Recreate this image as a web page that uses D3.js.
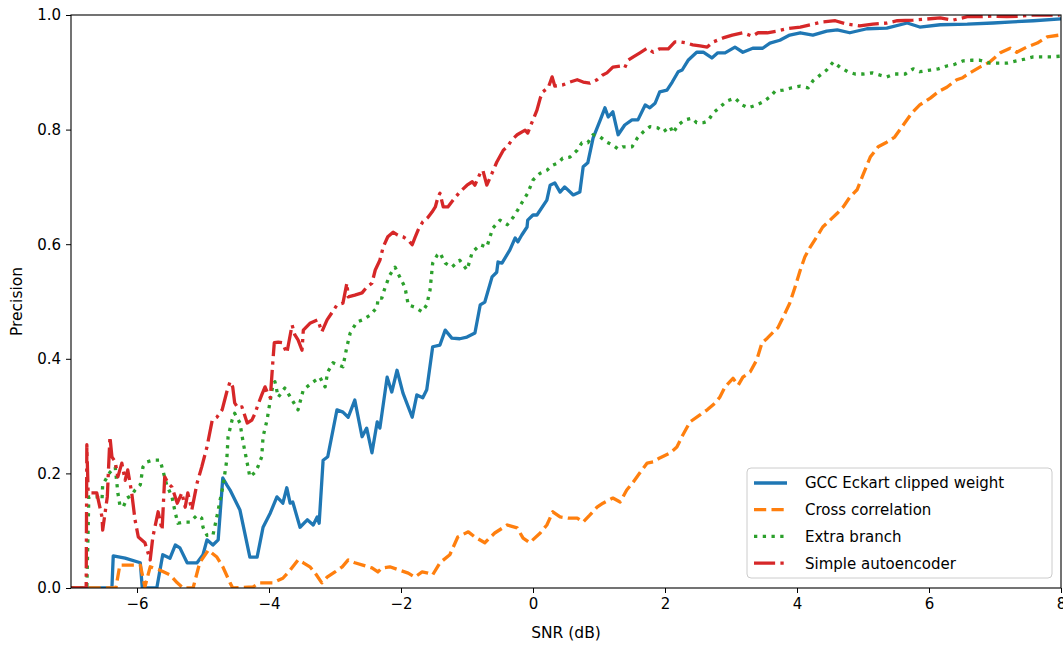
<!DOCTYPE html>
<html>
<head>
<meta charset="utf-8">
<script src="https://cdn.jsdelivr.net/npm/d3@7"></script>
<style>
  html, body { margin: 0; padding: 0; background: #fff; }
  svg { display: block; font-family: "DejaVu Sans", sans-serif; }
</style>
</head>
<body>
<div id="chart"></div>
<script>
// ---- Data ----
const seriesNames = ["GCC Eckart clipped weight", "Cross correlation", "Extra branch", "Simple autoencoder"];
const seriesColors = ["#1f77b4", "#ff7f0e", "#2ca02c", "#d62728"];

const gccSnr = [-7, -6.38, -6.36, -6.18, -5.95, -5.92, -5.70, -5.61, -5.50, -5.42, -5.35, -5.24, -5.09, -5.0, -4.94, -4.85, -4.77, -4.70, -4.64, -4.59, -4.44, -4.29, -4.18, -4.09, -3.98, -3.88, -3.79, -3.73, -3.68, -3.64, -3.53, -3.42, -3.33, -3.27, -3.24, -3.18, -3.11, -2.97, -2.88, -2.80, -2.70, -2.59, -2.52, -2.44, -2.36, -2.32, -2.21, -2.14, -2.06, -1.97, -1.83, -1.76, -1.67, -1.61, -1.52, -1.41, -1.33, -1.23, -1.11, -1.0, -0.88, -0.80, -0.73, -0.62, -0.55, -0.53, -0.47, -0.35, -0.27, -0.23, -0.17, -0.09, -0.08, 0.0, 0.06, 0.21, 0.26, 0.33, 0.41, 0.48, 0.61, 0.71, 0.76, 0.83, 0.91, 1.02, 1.09, 1.14, 1.21, 1.29, 1.39, 1.50, 1.59, 1.70, 1.77, 1.85, 1.92, 2.03, 2.11, 2.20, 2.26, 2.35, 2.48, 2.58, 2.71, 2.80, 2.91, 3.06, 3.18, 3.33, 3.48, 3.59, 3.74, 3.89, 4.05, 4.24, 4.45, 4.61, 4.80, 5.06, 5.36, 5.67, 5.86, 6.17, 6.58, 6.97, 7.27, 7.58, 7.98];
const gccPrec = [0, 0, 0.056, 0.052, 0.044, 0, 0, 0.058, 0.052, 0.075, 0.070, 0.044, 0.044, 0.058, 0.084, 0.075, 0.084, 0.192, 0.180, 0.171, 0.136, 0.054, 0.054, 0.106, 0.131, 0.159, 0.148, 0.175, 0.148, 0.150, 0.106, 0.119, 0.110, 0.124, 0.113, 0.223, 0.229, 0.311, 0.307, 0.298, 0.328, 0.264, 0.279, 0.236, 0.290, 0.279, 0.368, 0.342, 0.380, 0.340, 0.298, 0.337, 0.332, 0.346, 0.421, 0.424, 0.450, 0.436, 0.435, 0.438, 0.445, 0.494, 0.499, 0.543, 0.551, 0.569, 0.567, 0.590, 0.611, 0.604, 0.616, 0.630, 0.642, 0.651, 0.651, 0.677, 0.703, 0.707, 0.691, 0.700, 0.686, 0.691, 0.735, 0.742, 0.785, 0.817, 0.838, 0.822, 0.831, 0.791, 0.808, 0.817, 0.817, 0.843, 0.838, 0.846, 0.866, 0.869, 0.883, 0.901, 0.904, 0.921, 0.935, 0.935, 0.925, 0.934, 0.934, 0.944, 0.935, 0.942, 0.942, 0.951, 0.956, 0.965, 0.969, 0.965, 0.972, 0.974, 0.969, 0.976, 0.977, 0.986, 0.979, 0.983, 0.984, 0.986, 0.988, 0.990, 0.993];

const xcorrSnr = [-7, -6.32, -6.26, -5.95, -5.88, -5.80, -5.65, -5.50, -5.39, -5.30, -5.15, -5.05, -4.92, -4.79, -4.70, -4.59, -4.55, -4.24, -4.14, -3.94, -3.79, -3.68, -3.56, -3.48, -3.38, -3.30, -3.20, -3.12, -3.0, -2.89, -2.80, -2.70, -2.58, -2.44, -2.35, -2.29, -2.17, -2.02, -1.89, -1.79, -1.68, -1.59, -1.52, -1.41, -1.26, -1.14, -0.98, -0.88, -0.73, -0.58, -0.39, -0.24, -0.15, -0.05, 0.11, 0.21, 0.30, 0.41, 0.53, 0.67, 0.76, 0.86, 0.97, 1.06, 1.21, 1.32, 1.42, 1.52, 1.62, 1.73, 1.82, 1.92, 2.08, 2.18, 2.27, 2.38, 2.53, 2.64, 2.76, 2.83, 2.91, 3.03, 3.11, 3.18, 3.29, 3.39, 3.47, 3.55, 3.67, 3.71, 3.82, 3.89, 3.97, 4.05, 4.12, 4.20, 4.30, 4.39, 4.50, 4.61, 4.70, 4.80, 4.91, 5.0, 5.11, 5.23, 5.36, 5.48, 5.61, 5.74, 5.86, 6.02, 6.14, 6.27, 6.42, 6.50, 6.62, 6.77, 6.92, 7.08, 7.23, 7.33, 7.48, 7.64, 7.79, 7.98];
const xcorrPrec = [0, 0, 0.040, 0.040, 0.002, 0.037, 0.031, 0.023, 0.009, 0, 0, 0.044, 0.066, 0.054, 0.037, 0.009, 0, 0.002, 0.009, 0.009, 0.017, 0.031, 0.049, 0.044, 0.037, 0.026, 0.009, 0.019, 0.028, 0.037, 0.049, 0.044, 0.040, 0.035, 0.028, 0.035, 0.037, 0.031, 0.026, 0.019, 0.028, 0.026, 0.023, 0.044, 0.058, 0.089, 0.098, 0.089, 0.079, 0.096, 0.110, 0.105, 0.087, 0.079, 0.096, 0.110, 0.133, 0.124, 0.122, 0.122, 0.115, 0.127, 0.141, 0.148, 0.157, 0.150, 0.171, 0.185, 0.201, 0.218, 0.220, 0.227, 0.236, 0.246, 0.267, 0.290, 0.302, 0.311, 0.323, 0.333, 0.351, 0.366, 0.354, 0.368, 0.377, 0.398, 0.428, 0.436, 0.450, 0.454, 0.480, 0.497, 0.525, 0.555, 0.578, 0.595, 0.613, 0.630, 0.642, 0.654, 0.665, 0.682, 0.695, 0.721, 0.752, 0.770, 0.778, 0.787, 0.808, 0.829, 0.843, 0.855, 0.866, 0.874, 0.887, 0.890, 0.899, 0.909, 0.918, 0.934, 0.942, 0.935, 0.944, 0.951, 0.962, 0.965];

const branchSnr = [-7, -6.76, -6.73, -6.61, -6.53, -6.52, -6.41, -6.33, -6.29, -6.26, -6.21, -6.15, -6.08, -6.03, -5.95, -5.91, -5.85, -5.76, -5.65, -5.61, -5.55, -5.47, -5.42, -5.38, -5.30, -5.20, -5.09, -5.02, -5.0, -4.94, -4.85, -4.79, -4.74, -4.70, -4.64, -4.62, -4.56, -4.52, -4.44, -4.39, -4.33, -4.29, -4.21, -4.17, -4.11, -4.09, -4.03, -3.98, -3.94, -3.91, -3.86, -3.76, -3.65, -3.56, -3.48, -3.35, -3.23, -3.15, -3.11, -3.03, -2.88, -2.82, -2.77, -2.67, -2.58, -2.47, -2.36, -2.35, -2.29, -2.24, -2.17, -2.09, -2.02, -1.94, -1.89, -1.79, -1.68, -1.61, -1.56, -1.52, -1.45, -1.41, -1.33, -1.23, -1.11, -1.0, -0.92, -0.80, -0.70, -0.61, -0.50, -0.39, -0.30, -0.23, -0.17, -0.08, 0.0, 0.11, 0.21, 0.30, 0.38, 0.45, 0.56, 0.67, 0.74, 0.83, 0.91, 1.02, 1.12, 1.21, 1.29, 1.36, 1.50, 1.58, 1.67, 1.77, 1.89, 1.97, 2.08, 2.12, 2.20, 2.30, 2.41, 2.48, 2.58, 2.65, 2.73, 2.83, 2.94, 3.06, 3.17, 3.26, 3.39, 3.48, 3.59, 3.67, 3.79, 3.92, 4.05, 4.17, 4.24, 4.35, 4.45, 4.55, 4.65, 4.77, 4.88, 5.0, 5.14, 5.26, 5.36, 5.48, 5.64, 5.76, 5.86, 6.02, 6.14, 6.27, 6.39, 6.52, 6.65, 6.77, 6.92, 7.05, 7.18, 7.33, 7.45, 7.58, 7.73, 7.86, 7.98];
const branchPrec = [0, 0, 0.159, 0.159, 0.154, 0.180, 0.202, 0.211, 0.166, 0.145, 0.141, 0.157, 0.162, 0.171, 0.180, 0.211, 0.220, 0.223, 0.223, 0.206, 0.180, 0.159, 0.131, 0.113, 0.115, 0.115, 0.127, 0.122, 0.106, 0.092, 0.092, 0.124, 0.154, 0.176, 0.223, 0.264, 0.293, 0.305, 0.288, 0.253, 0.218, 0.194, 0.202, 0.211, 0.229, 0.264, 0.293, 0.328, 0.355, 0.360, 0.333, 0.349, 0.328, 0.311, 0.346, 0.358, 0.368, 0.351, 0.377, 0.393, 0.386, 0.421, 0.445, 0.464, 0.468, 0.476, 0.490, 0.506, 0.506, 0.525, 0.546, 0.560, 0.543, 0.525, 0.494, 0.490, 0.482, 0.494, 0.520, 0.567, 0.581, 0.585, 0.567, 0.560, 0.572, 0.555, 0.586, 0.599, 0.595, 0.628, 0.642, 0.634, 0.647, 0.660, 0.672, 0.689, 0.712, 0.724, 0.729, 0.738, 0.742, 0.750, 0.752, 0.764, 0.777, 0.777, 0.791, 0.787, 0.778, 0.773, 0.766, 0.770, 0.770, 0.785, 0.796, 0.805, 0.803, 0.796, 0.805, 0.794, 0.808, 0.817, 0.820, 0.812, 0.812, 0.815, 0.829, 0.839, 0.850, 0.855, 0.843, 0.838, 0.843, 0.848, 0.857, 0.867, 0.869, 0.873, 0.876, 0.873, 0.885, 0.895, 0.904, 0.918, 0.909, 0.901, 0.897, 0.897, 0.899, 0.895, 0.892, 0.897, 0.897, 0.906, 0.901, 0.904, 0.906, 0.911, 0.914, 0.920, 0.921, 0.921, 0.916, 0.916, 0.916, 0.920, 0.923, 0.927, 0.927, 0.927, 0.928];

const autoSnr = [-7, -6.77, -6.76, -6.74, -6.61, -6.53, -6.52, -6.45, -6.41, -6.38, -6.33, -6.29, -6.23, -6.18, -6.14, -6.08, -6.03, -5.98, -5.88, -5.80, -5.76, -5.68, -5.62, -5.58, -5.53, -5.47, -5.39, -5.32, -5.27, -5.23, -5.17, -5.09, -5.02, -4.94, -4.86, -4.79, -4.71, -4.64, -4.59, -4.55, -4.52, -4.47, -4.41, -4.33, -4.26, -4.21, -4.17, -4.11, -4.06, -4.02, -3.98, -3.94, -3.92, -3.86, -3.80, -3.73, -3.65, -3.61, -3.56, -3.50, -3.48, -3.38, -3.26, -3.20, -3.12, -3.05, -2.97, -2.88, -2.82, -2.80, -2.70, -2.59, -2.52, -2.44, -2.39, -2.32, -2.27, -2.20, -2.12, -2.05, -1.97, -1.89, -1.83, -1.79, -1.74, -1.67, -1.59, -1.53, -1.48, -1.44, -1.41, -1.36, -1.29, -1.21, -1.11, -1.0, -0.92, -0.88, -0.80, -0.76, -0.70, -0.62, -0.55, -0.45, -0.39, -0.32, -0.24, -0.12, -0.08, 0.0, 0.06, 0.11, 0.15, 0.23, 0.29, 0.33, 0.45, 0.56, 0.67, 0.76, 0.86, 0.97, 1.05, 1.12, 1.21, 1.32, 1.39, 1.44, 1.52, 1.62, 1.73, 1.82, 1.92, 2.05, 2.15, 2.23, 2.33, 2.42, 2.53, 2.64, 2.73, 2.88, 3.02, 3.18, 3.32, 3.41, 3.55, 3.70, 3.85, 4.05, 4.24, 4.39, 4.58, 4.76, 4.95, 5.15, 5.36, 5.52, 5.76, 5.97, 6.17, 6.36, 6.58, 6.77, 6.97, 7.18, 7.38, 7.58, 7.79, 7.98];
const autoPrec = [0, 0, 0.250, 0.166, 0.166, 0.124, 0.101, 0.159, 0.264, 0.229, 0.220, 0.194, 0.218, 0.188, 0.206, 0.166, 0.119, 0.089, 0.079, 0.049, 0.089, 0.133, 0.101, 0.194, 0.183, 0.176, 0.148, 0.166, 0.141, 0.166, 0.136, 0.183, 0.211, 0.246, 0.293, 0.298, 0.311, 0.342, 0.360, 0.351, 0.323, 0.314, 0.316, 0.288, 0.293, 0.305, 0.319, 0.337, 0.351, 0.340, 0.332, 0.398, 0.428, 0.429, 0.428, 0.410, 0.459, 0.442, 0.433, 0.415, 0.450, 0.462, 0.468, 0.447, 0.468, 0.480, 0.494, 0.497, 0.532, 0.508, 0.511, 0.515, 0.525, 0.532, 0.555, 0.572, 0.595, 0.613, 0.621, 0.616, 0.613, 0.607, 0.599, 0.611, 0.625, 0.639, 0.647, 0.656, 0.665, 0.682, 0.689, 0.665, 0.665, 0.677, 0.691, 0.703, 0.709, 0.703, 0.724, 0.729, 0.703, 0.724, 0.743, 0.764, 0.770, 0.782, 0.791, 0.799, 0.794, 0.817, 0.834, 0.855, 0.866, 0.873, 0.892, 0.876, 0.878, 0.883, 0.887, 0.883, 0.881, 0.887, 0.895, 0.899, 0.909, 0.911, 0.908, 0.921, 0.927, 0.934, 0.942, 0.935, 0.941, 0.941, 0.953, 0.953, 0.951, 0.948, 0.946, 0.944, 0.953, 0.960, 0.965, 0.969, 0.963, 0.969, 0.969, 0.972, 0.976, 0.979, 0.984, 0.988, 0.990, 0.984, 0.981, 0.984, 0.986, 0.990, 0.991, 0.993, 0.995, 0.991, 0.997, 0.997, 0.998, 0.997, 0.998, 1.0, 1.0, 1.0];

const xTicks = [-6, -4, -2, 0, 2, 4, 6, 8];
const yTicks = [0, 0.2, 0.4, 0.6, 0.8, 1.0];

// ---- Layout ----
const W = 1063, H = 648;
const margin = { top: 15, right: 2, bottom: 60, left: 71 };
const lw = 3.3;
// matplotlib-like dash patterns scaled by line width
const dashes = [null, [3.7 * lw, 1.6 * lw], [1 * lw, 1.65 * lw], [6.4 * lw, 1.6 * lw, 1 * lw, 1.6 * lw]];

const svg = d3.select("#chart").append("svg")
  .attr("width", W).attr("height", H);

const x = d3.scaleLinear().domain([-7, 8]).range([margin.left, W - margin.right]);
const y = d3.scaleLinear().domain([0, 1]).range([H - margin.bottom, margin.top]);

svg.append("clipPath").attr("id", "plot-clip")
  .append("rect")
  .attr("x", x(-7)).attr("y", y(1))
  .attr("width", x(8) - x(-7)).attr("height", y(0) - y(1));

const series = [
  { snr: gccSnr, prec: gccPrec },
  { snr: xcorrSnr, prec: xcorrPrec },
  { snr: branchSnr, prec: branchPrec },
  { snr: autoSnr, prec: autoPrec }
].map((s, i) => ({
  name: seriesNames[i],
  color: seriesColors[i],
  dash: dashes[i],
  points: s.snr.map((v, j) => [v, s.prec[j]])
}));

const line = d3.line().x(d => x(d[0])).y(d => y(d[1]));

const plot = svg.append("g").attr("clip-path", "url(#plot-clip)");
series.forEach(s => {
  plot.append("path")
    .attr("d", line(s.points))
    .attr("fill", "none")
    .attr("stroke", s.color)
    .attr("stroke-width", lw)
    .attr("stroke-linejoin", "round")
    .attr("stroke-linecap", s.dash ? "butt" : "square")
    .attr("stroke-dasharray", s.dash ? s.dash.join(",") : null);
});

// ---- Axes ----
const xAxis = d3.axisBottom(x).tickValues(xTicks).tickSize(5).tickPadding(5)
  .tickFormat(d => d < 0 ? "\u2212" + Math.abs(d) : String(d));
const yAxis = d3.axisLeft(y).tickValues(yTicks).tickSize(5).tickPadding(5)
  .tickFormat(d3.format(".1f"));

const gx = svg.append("g").attr("transform", `translate(0,${y(0)})`).call(xAxis);
const gy = svg.append("g").attr("transform", `translate(${x(-7)},0)`).call(yAxis);
[gx, gy].forEach(g => {
  g.select(".domain").remove();
  g.selectAll(".tick line").attr("stroke", "#000").attr("stroke-width", 1);
  g.selectAll(".tick text").attr("fill", "#000").attr("font-size", 15)
    .attr("font-family", "'DejaVu Sans', sans-serif");
});

// frame (all four spines)
svg.append("rect")
  .attr("x", x(-7)).attr("y", y(1))
  .attr("width", x(8) - x(-7)).attr("height", y(0) - y(1))
  .attr("fill", "none").attr("stroke", "#000").attr("stroke-width", 1.1);

svg.append("text")
  .attr("x", (x(-7) + x(8)) / 2).attr("y", 638)
  .attr("text-anchor", "middle").attr("font-size", 15.5)
  .text("SNR (dB)");

svg.append("text")
  .attr("transform", `translate(22,${(y(0) + y(1)) / 2}) rotate(-90)`)
  .attr("text-anchor", "middle").attr("font-size", 15.5)
  .text("Precision");

// ---- Legend ----
const lg = svg.append("g").attr("transform", "translate(747,468)");
lg.append("rect")
  .attr("width", 305).attr("height", 110).attr("rx", 4)
  .attr("fill", "#fff").attr("fill-opacity", 0.8)
  .attr("stroke", "#cccccc").attr("stroke-width", 1);

series.forEach((s, i) => {
  const cy = 15 + i * 26.7;
  lg.append("line")
    .attr("x1", 7).attr("x2", 40).attr("y1", cy).attr("y2", cy)
    .attr("stroke", s.color).attr("stroke-width", lw)
    .attr("stroke-dasharray", s.dash ? s.dash.join(",") : null);
  lg.append("text")
    .attr("x", 58).attr("y", cy).attr("dy", "0.36em")
    .attr("font-size", 15).text(s.name);
});
</script>
</body>
</html>
